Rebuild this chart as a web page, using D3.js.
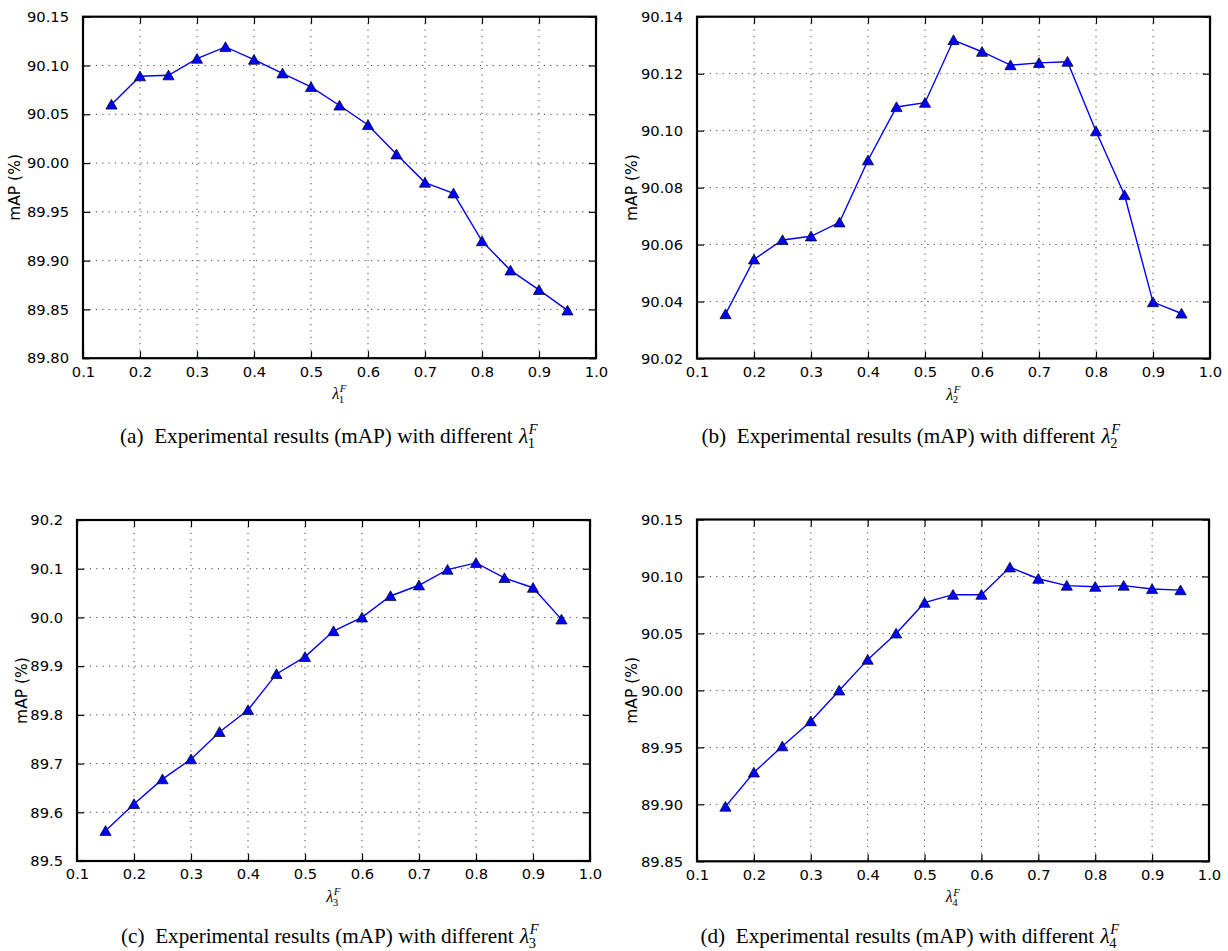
<!DOCTYPE html>
<html>
<head>
<meta charset="utf-8">
<script src="https://cdn.jsdelivr.net/npm/d3@7"></script>
<style>
  body { margin: 0; background: #fff; }
  svg { display: block; }
</style>
</head>
<body>
<svg id="chart" width="1228" height="951"></svg>
<script>
// Weight values swept in each experiment
const lambdaValues = [0.15, 0.20, 0.25, 0.30, 0.35, 0.40, 0.45, 0.50, 0.55,
                      0.60, 0.65, 0.70, 0.75, 0.80, 0.85, 0.90, 0.95];

// mAP (%) obtained for each weight
const mapLambda1 = [90.060, 90.089, 90.090, 90.107, 90.119, 90.106, 90.092, 90.078, 90.059,
                    90.039, 90.009, 89.980, 89.969, 89.920, 89.890, 89.870, 89.849];
const mapLambda2 = [90.0356, 90.0548, 90.0616, 90.0629, 90.0678, 90.0896, 90.1083, 90.1098, 90.1318,
                    90.1277, 90.1230, 90.1238, 90.1242, 90.0998, 90.0774, 90.0398, 90.0358];
const mapLambda3 = [89.562, 89.617, 89.668, 89.709, 89.765, 89.810, 89.884, 89.919, 89.972,
                    90.000, 90.044, 90.066, 90.098, 90.112, 90.081, 90.061, 89.996];
const mapLambda4 = [89.898, 89.928, 89.951, 89.973, 90.000, 90.027, 90.050, 90.077, 90.084,
                    90.084, 90.108, 90.098, 90.092, 90.091, 90.092, 90.089, 90.088];

// Axis ticks
const xTicks  = [0.1, 0.2, 0.3, 0.4, 0.5, 0.6, 0.7, 0.8, 0.9, 1.0];
const yTicks1 = [89.80, 89.85, 89.90, 89.95, 90.00, 90.05, 90.10, 90.15];
const yTicks2 = [90.02, 90.04, 90.06, 90.08, 90.10, 90.12, 90.14];
const yTicks3 = [89.5, 89.6, 89.7, 89.8, 89.9, 90.0, 90.1, 90.2];
const yTicks4 = [89.85, 89.90, 89.95, 90.00, 90.05, 90.10, 90.15];
const yDecimals = [2, 2, 1, 2];

// Text
const panelLetters = ["(a)", "(b)", "(c)", "(d)"];
const lambdaIndex  = ["1", "2", "3", "4"];
const yAxisTitle   = "mAP (%)";
const captionText  = "Experimental results (mAP) with different";

const seriesList = [mapLambda1, mapLambda2, mapLambda3, mapLambda4];
const yTickList  = [yTicks1, yTicks2, yTicks3, yTicks4];

// Placement of each subplot on the page
const layout = [
  { left: 83,  top: 16.7, width: 513, height: 341.5, yTitleX: 15,  capX: 329, capY: 443 },
  { left: 697, top: 16.7, width: 513, height: 341.8, yTitleX: 632, capX: 911, capY: 443 },
  { left: 77,  top: 520,  width: 513, height: 341,   yTitleX: 22,  capX: 330, capY: 943 },
  { left: 697, top: 519.5,width: 512, height: 341.8, yTitleX: 632, capX: 910, capY: 943 }
];

const svg = d3.select("#chart");
const tickFont = "'DejaVu Sans', sans-serif";
const serifFont = "'Liberation Serif', 'Times New Roman', serif";
const tickLen = 7;

// Draws λ with stacked sub/superscript; returns total width
function lambdaSymbol(g, x, baseline, size, idx) {
  const lam = g.append("text")
    .attr("x", x).attr("y", baseline)
    .attr("font-family", serifFont).attr("font-style", "italic")
    .attr("font-size", size).text("λ");
  const w = lam.node().getComputedTextLength();
  const sup = g.append("text")
    .attr("x", x + w + 0.5).attr("y", baseline - size * 0.42)
    .attr("font-family", serifFont).attr("font-style", "italic")
    .attr("font-size", size * 0.68).text("F");
  g.append("text")
    .attr("x", x + w - 0.5).attr("y", baseline + size * 0.22)
    .attr("font-family", serifFont)
    .attr("font-size", size * 0.68).text(idx);
  return w + sup.node().getComputedTextLength() + 1;
}

layout.forEach((L, i) => {
  const data = lambdaValues.map((lv, k) => ({ x: lv, y: seriesList[i][k] }));
  const yt = yTickList[i];
  const x = d3.scaleLinear().domain([0.1, 1.0]).range([L.left, L.left + L.width]);
  const y = d3.scaleLinear().domain([yt[0], yt[yt.length - 1]]).range([L.top + L.height, L.top]);
  const g = svg.append("g");
  const fmtY = d3.format("." + yDecimals[i] + "f");

  // dotted grid
  const grid = g.append("g").attr("stroke", "#444").attr("stroke-width", 1)
    .attr("stroke-dasharray", "1.2,5.2");
  grid.selectAll("line.v").data(xTicks).join("line")
    .attr("x1", d => x(d)).attr("x2", d => x(d))
    .attr("y1", L.top).attr("y2", L.top + L.height);
  grid.selectAll("line.h").data(yt).join("line")
    .attr("x1", L.left).attr("x2", L.left + L.width)
    .attr("y1", d => y(d)).attr("y2", d => y(d));

  // axes with inward ticks on all four sides
  const bottom = g.append("g").attr("transform", `translate(0,${L.top + L.height})`)
    .call(d3.axisBottom(x).tickValues(xTicks).tickSize(-tickLen).tickPadding(tickLen + 7)
      .tickFormat(d3.format(".1f")));
  const top = g.append("g").attr("transform", `translate(0,${L.top})`)
    .call(d3.axisTop(x).tickValues(xTicks).tickSize(-tickLen).tickFormat(""));
  const left = g.append("g").attr("transform", `translate(${L.left},0)`)
    .call(d3.axisLeft(y).tickValues(yt).tickSize(-tickLen).tickPadding(tickLen + 7).tickFormat(fmtY));
  const right = g.append("g").attr("transform", `translate(${L.left + L.width},0)`)
    .call(d3.axisRight(y).tickValues(yt).tickSize(-tickLen).tickFormat(""));
  [bottom, top, left, right].forEach(a => {
    a.select(".domain").remove();
    a.selectAll(".tick line").attr("stroke", "#000").attr("stroke-width", 1.2);
    a.selectAll("text").attr("font-family", tickFont).attr("font-size", 14.7).attr("fill", "#000");
  });
  bottom.selectAll("text").attr("dy", "0.71em").attr("y", 8);

  // frame
  g.append("rect")
    .attr("x", L.left).attr("y", L.top).attr("width", L.width).attr("height", L.height)
    .attr("fill", "none").attr("stroke", "#000").attr("stroke-width", 2.2);

  // series line
  g.append("path").datum(data)
    .attr("fill", "none").attr("stroke", "#0000ff").attr("stroke-width", 1.4)
    .attr("d", d3.line().x(d => x(d.x)).y(d => y(d.y)));

  // triangle markers
  g.selectAll("path.marker").data(data).join("path")
    .attr("class", "marker")
    .attr("transform", d => `translate(${x(d.x)},${y(d.y)})`)
    .attr("d", "M0,-5.2L5.6,4.6L-5.6,4.6Z")
    .attr("fill", "#0000ff").attr("stroke", "#000").attr("stroke-width", 0.7);

  // y-axis title
  g.append("text")
    .attr("transform", `translate(${L.yTitleX},${L.top + L.height / 2}) rotate(-90)`)
    .attr("text-anchor", "middle").attr("dy", "0.35em")
    .attr("font-family", tickFont).attr("font-size", 15.5).text(yAxisTitle);

  // x-axis title: λ_i^F
  const xt = g.append("g");
  const xw = lambdaSymbol(xt, 0, 0, 16, lambdaIndex[i]);
  xt.attr("transform", `translate(${L.left + L.width / 2 - xw / 2},${L.top + L.height + 41})`);

  // caption
  const cap = g.append("g");
  const t = cap.append("text").attr("x", 0).attr("y", 0)
    .attr("font-family", serifFont).attr("font-size", 21.2)
    .text(panelLetters[i] + "\u00a0\u00a0" + captionText + "\u00a0");
  const tw = t.node().getComputedTextLength();
  const lw = lambdaSymbol(cap, tw + 1, 0, 21.2, lambdaIndex[i]);
  cap.attr("transform", `translate(${L.capX - (tw + 1 + lw) / 2},${L.capY})`);
});
</script>
</body>
</html>
